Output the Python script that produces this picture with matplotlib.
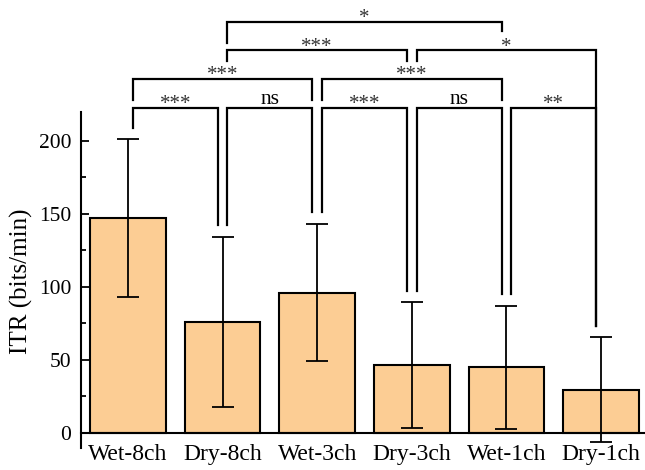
import numpy as np
import matplotlib
matplotlib.use("Agg")
import matplotlib.pyplot as plt
from matplotlib.ticker import FixedLocator

plt.rcParams['font.family'] = ['Liberation Serif', 'DejaVu Serif']

# data
groups = ['Wet-8ch', 'Dry-8ch', 'Wet-3ch', 'Dry-3ch', 'Wet-1ch', 'Dry-1ch']
itr_mean = [147, 76, 96, 46.5, 45, 29.5]
itr_sd = [54, 58.5, 47, 43, 42, 36]

# significance comparisons: (left group, right group, label)
comparisons = [
    (0, 1, '***'), (1, 2, 'ns'), (2, 3, '***'), (3, 4, 'ns'), (4, 5, '**'),
    (0, 2, '***'), (2, 4, '***'),
    (1, 3, '***'), (3, 5, '*'),
    (1, 4, '*'),
]

x = np.arange(len(groups))
err_top = np.array(itr_mean) + np.array(itr_sd)

fig = plt.figure(figsize=(6.45, 4.7), dpi=100)
ax = fig.add_axes([81 / 645, 21.7 / 470, 1 - 81 / 645, 449 / 470])

ax.bar(x, itr_mean, width=0.8, color='#FCCD94', edgecolor='black', linewidth=1.5, zorder=2)
ax.errorbar(x, itr_mean, yerr=itr_sd, fmt='none', ecolor='black', elinewidth=1.3,
            capsize=8, capthick=1.3, zorder=3)

ax.set_xlim(-0.497, 5.465)
ax.set_ylim(-10.5, 297)

# bracket layout: line height and leg bottoms per comparison
lvl = [222.5, 242.5, 262, 281.5]
gap = 8
off = 0.05
layout = [
    (lvl[0], err_top[0] + gap, err_top[1] + gap),
    (lvl[0], err_top[1] + gap, err_top[2] + gap),
    (lvl[0], err_top[2] + gap, err_top[3] + gap),
    (lvl[0], err_top[3] + gap, err_top[4] + gap),
    (lvl[0], err_top[4] + gap, err_top[5] + gap),
    (lvl[1], 228, 228),
    (lvl[1], 228, 228),
    (lvl[2], 254.5, 254.5),
    (lvl[2], 255, err_top[5] + gap),
    (lvl[3], 267, 275),
]

for (i, j, lab), (h, b1, b2) in zip(comparisons, layout):
    x1, x2 = x[i] + off, x[j] - off
    ax.plot([x1, x1, x2, x2], [b1, h, h, b2], color='black', lw=1.6,
            solid_joinstyle='miter', clip_on=False, zorder=4)
    if lab == 'ns':
        ax.text((x1 + x2) / 2, h + 2.7, lab, ha='center', va='baseline', fontsize=15.5)
    else:
        ax.text((x1 + x2) / 2, h - 0.8, lab, ha='center', va='baseline', fontsize=15,
                color='#333333')

for s in ['top', 'right']:
    ax.spines[s].set_visible(False)
ax.spines['left'].set_bounds(-10, 220)
ax.spines['left'].set_linewidth(1.5)
ax.spines['bottom'].set_position(('data', 0))
ax.spines['bottom'].set_linewidth(1.5)
ax.spines['bottom'].set_zorder(5)

ax.set_xticks(x)
ax.set_xticklabels(groups)
ax.tick_params(axis='x', length=0, pad=8, labelsize=17)
ax.yaxis.set_major_locator(FixedLocator([0, 50, 100, 150, 200]))
ax.yaxis.set_minor_locator(FixedLocator([25, 75, 125, 175]))
ax.tick_params(axis='y', which='major', direction='in', length=6, width=1.3, pad=7, labelsize=15.5)
ax.tick_params(axis='y', which='minor', direction='in', length=3.5, width=1.3)

ax.set_ylabel('ITR (bits/min)', fontsize=18)
ax.yaxis.set_label_coords(-0.085, 0.372)

fig.savefig('out.png', dpi=100)
